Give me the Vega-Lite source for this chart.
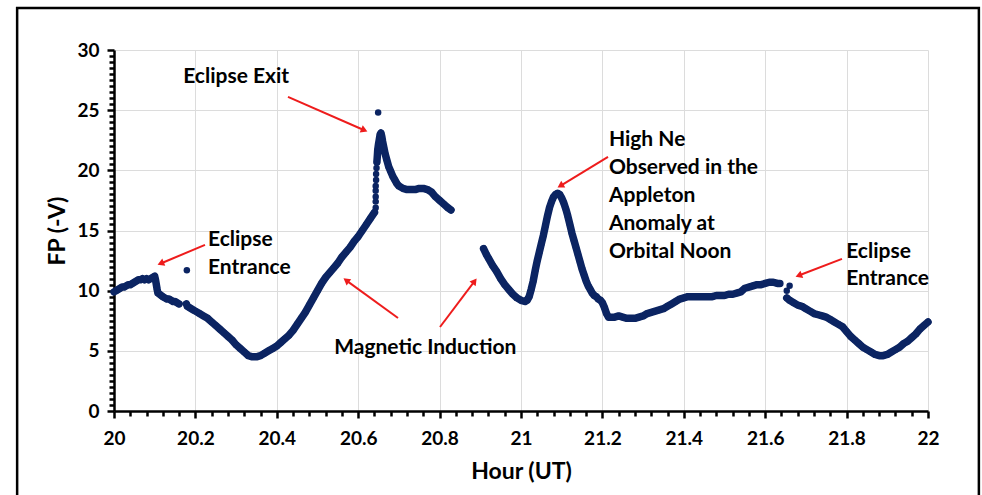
{
  "$schema": "https://vega.github.io/schema/vega-lite/v6.json",
  "width": 814,
  "height": 361,
  "autosize": "none",
  "padding": {"left": 114, "top": 50, "right": 54, "bottom": 84},
  "background": "white",
  "config": {"view": {"stroke": null}, "font": "Lato"},
  "datasets": {
    "fp": [
      {"h":20.000,"v":9.9,"s":"a"},{"h":20.005,"v":10.0,"s":"a"},{"h":20.010,"v":10.1,"s":"a"},{"h":20.015,"v":10.2,"s":"a"},{"h":20.020,"v":10.3,"s":"a"},{"h":20.025,"v":10.3,"s":"a"},{"h":20.030,"v":10.4,"s":"a"},{"h":20.035,"v":10.5,"s":"a"},{"h":20.040,"v":10.5,"s":"a"},{"h":20.045,"v":10.6,"s":"a"},{"h":20.050,"v":10.7,"s":"a"},{"h":20.055,"v":10.8,"s":"a"},{"h":20.060,"v":10.9,"s":"a"},{"h":20.065,"v":10.9,"s":"a"},{"h":20.070,"v":11.0,"s":"a"},{"h":20.075,"v":10.9,"s":"a"},{"h":20.080,"v":11.0,"s":"a"},{"h":20.085,"v":10.9,"s":"a"},{"h":20.090,"v":11.0,"s":"a"},{"h":20.095,"v":11.1,"s":"a"},{"h":20.100,"v":11.2,"s":"a"},{"h":20.102,"v":10.9,"s":"a"},{"h":20.104,"v":10.5,"s":"a"},{"h":20.106,"v":10.1,"s":"a"},{"h":20.108,"v":9.8,"s":"a"},{"h":20.112,"v":9.7,"s":"a"},{"h":20.116,"v":9.6,"s":"a"},{"h":20.120,"v":9.5,"s":"a"},{"h":20.125,"v":9.4,"s":"a"},{"h":20.130,"v":9.3,"s":"a"},{"h":20.135,"v":9.3,"s":"a"},{"h":20.140,"v":9.2,"s":"a"},{"h":20.145,"v":9.1,"s":"a"},{"h":20.150,"v":9.1,"s":"a"},{"h":20.155,"v":9.0,"s":"a"},{"h":20.160,"v":8.9,"s":"a"},
      {"h":20.178,"v":8.9,"s":"b"},{"h":20.180,"v":8.7,"s":"b"},{"h":20.185,"v":8.6,"s":"b"},{"h":20.190,"v":8.5,"s":"b"},{"h":20.195,"v":8.4,"s":"b"},{"h":20.200,"v":8.3,"s":"b"},{"h":20.210,"v":8.1,"s":"b"},{"h":20.220,"v":7.9,"s":"b"},{"h":20.230,"v":7.7,"s":"b"},{"h":20.240,"v":7.4,"s":"b"},{"h":20.250,"v":7.1,"s":"b"},{"h":20.260,"v":6.8,"s":"b"},{"h":20.270,"v":6.5,"s":"b"},{"h":20.280,"v":6.2,"s":"b"},{"h":20.290,"v":5.9,"s":"b"},{"h":20.300,"v":5.5,"s":"b"},{"h":20.310,"v":5.2,"s":"b"},{"h":20.320,"v":4.9,"s":"b"},{"h":20.330,"v":4.6,"s":"b"},{"h":20.340,"v":4.5,"s":"b"},{"h":20.350,"v":4.5,"s":"b"},{"h":20.360,"v":4.6,"s":"b"},{"h":20.370,"v":4.8,"s":"b"},{"h":20.380,"v":5.0,"s":"b"},{"h":20.390,"v":5.2,"s":"b"},{"h":20.400,"v":5.4,"s":"b"},{"h":20.410,"v":5.7,"s":"b"},{"h":20.420,"v":6.0,"s":"b"},{"h":20.430,"v":6.3,"s":"b"},{"h":20.440,"v":6.7,"s":"b"},{"h":20.450,"v":7.2,"s":"b"},{"h":20.460,"v":7.7,"s":"b"},{"h":20.470,"v":8.2,"s":"b"},{"h":20.480,"v":8.8,"s":"b"},{"h":20.490,"v":9.4,"s":"b"},{"h":20.500,"v":10.0,"s":"b"},{"h":20.510,"v":10.6,"s":"b"},{"h":20.520,"v":11.1,"s":"b"},{"h":20.530,"v":11.5,"s":"b"},{"h":20.540,"v":11.9,"s":"b"},{"h":20.550,"v":12.3,"s":"b"},{"h":20.560,"v":12.8,"s":"b"},{"h":20.570,"v":13.2,"s":"b"},{"h":20.580,"v":13.6,"s":"b"},{"h":20.590,"v":14.1,"s":"b"},{"h":20.600,"v":14.5,"s":"b"},{"h":20.610,"v":15.0,"s":"b"},{"h":20.620,"v":15.5,"s":"b"},{"h":20.630,"v":16.0,"s":"b"},{"h":20.640,"v":16.5,"s":"b"},
      {"h":20.643,"v":16.9,"s":"iso"},{"h":20.643,"v":17.4,"s":"iso"},{"h":20.643,"v":17.8,"s":"iso"},{"h":20.643,"v":18.3,"s":"iso"},{"h":20.643,"v":18.7,"s":"iso"},{"h":20.644,"v":19.2,"s":"iso"},{"h":20.644,"v":19.7,"s":"iso"},{"h":20.645,"v":20.2,"s":"iso"},{"h":20.179,"v":11.7,"s":"iso"},{"h":20.649,"v":24.8,"s":"iso"},{"h":21.653,"v":10.0,"s":"iso"},{"h":21.660,"v":10.4,"s":"iso"},
      {"h":20.646,"v":20.7,"s":"c"},{"h":20.647,"v":21.2,"s":"c"},{"h":20.648,"v":21.7,"s":"c"},{"h":20.650,"v":22.2,"s":"c"},{"h":20.652,"v":22.6,"s":"c"},{"h":20.654,"v":23.0,"s":"c"},{"h":20.656,"v":23.1,"s":"c"},{"h":20.658,"v":22.8,"s":"c"},{"h":20.660,"v":22.4,"s":"c"},{"h":20.663,"v":21.9,"s":"c"},{"h":20.666,"v":21.4,"s":"c"},{"h":20.670,"v":20.9,"s":"c"},{"h":20.675,"v":20.3,"s":"c"},{"h":20.680,"v":19.9,"s":"c"},{"h":20.685,"v":19.5,"s":"c"},{"h":20.690,"v":19.2,"s":"c"},{"h":20.695,"v":18.9,"s":"c"},{"h":20.700,"v":18.7,"s":"c"},{"h":20.710,"v":18.5,"s":"c"},{"h":20.720,"v":18.4,"s":"c"},{"h":20.730,"v":18.4,"s":"c"},{"h":20.740,"v":18.4,"s":"c"},{"h":20.750,"v":18.5,"s":"c"},{"h":20.760,"v":18.5,"s":"c"},{"h":20.770,"v":18.4,"s":"c"},{"h":20.780,"v":18.2,"s":"c"},{"h":20.790,"v":17.8,"s":"c"},{"h":20.800,"v":17.5,"s":"c"},{"h":20.810,"v":17.2,"s":"c"},{"h":20.820,"v":16.9,"s":"c"},{"h":20.828,"v":16.7,"s":"c"},
      {"h":20.908,"v":13.5,"s":"d"},{"h":20.915,"v":13.0,"s":"d"},{"h":20.920,"v":12.7,"s":"d"},{"h":20.930,"v":12.1,"s":"d"},{"h":20.940,"v":11.6,"s":"d"},{"h":20.950,"v":11.0,"s":"d"},{"h":20.960,"v":10.5,"s":"d"},{"h":20.970,"v":10.1,"s":"d"},{"h":20.980,"v":9.7,"s":"d"},{"h":20.990,"v":9.4,"s":"d"},{"h":21.000,"v":9.2,"s":"d"},{"h":21.010,"v":9.1,"s":"d"},{"h":21.015,"v":9.2,"s":"d"},{"h":21.020,"v":9.5,"s":"d"},{"h":21.025,"v":10.1,"s":"d"},{"h":21.030,"v":10.8,"s":"d"},{"h":21.035,"v":11.7,"s":"d"},{"h":21.040,"v":12.5,"s":"d"},{"h":21.045,"v":13.2,"s":"d"},{"h":21.050,"v":13.9,"s":"d"},{"h":21.055,"v":14.6,"s":"d"},{"h":21.060,"v":15.4,"s":"d"},{"h":21.065,"v":16.2,"s":"d"},{"h":21.070,"v":16.9,"s":"d"},{"h":21.075,"v":17.4,"s":"d"},{"h":21.080,"v":17.8,"s":"d"},{"h":21.085,"v":18.0,"s":"d"},{"h":21.090,"v":18.1,"s":"d"},{"h":21.095,"v":18.0,"s":"d"},{"h":21.100,"v":17.7,"s":"d"},{"h":21.105,"v":17.3,"s":"d"},{"h":21.110,"v":16.8,"s":"d"},{"h":21.115,"v":16.2,"s":"d"},{"h":21.120,"v":15.5,"s":"d"},{"h":21.125,"v":14.8,"s":"d"},{"h":21.130,"v":14.2,"s":"d"},{"h":21.135,"v":13.6,"s":"d"},{"h":21.140,"v":13.0,"s":"d"},{"h":21.145,"v":12.4,"s":"d"},{"h":21.150,"v":11.8,"s":"d"},{"h":21.155,"v":11.3,"s":"d"},{"h":21.160,"v":10.8,"s":"d"},{"h":21.165,"v":10.4,"s":"d"},{"h":21.170,"v":10.1,"s":"d"},{"h":21.175,"v":9.8,"s":"d"},{"h":21.180,"v":9.6,"s":"d"},{"h":21.185,"v":9.5,"s":"d"},{"h":21.190,"v":9.3,"s":"d"},{"h":21.195,"v":9.2,"s":"d"},{"h":21.200,"v":9.0,"s":"d"},{"h":21.205,"v":8.6,"s":"d"},{"h":21.210,"v":8.1,"s":"d"},{"h":21.215,"v":7.8,"s":"d"},{"h":21.220,"v":7.8,"s":"d"},{"h":21.230,"v":7.8,"s":"d"},{"h":21.240,"v":7.9,"s":"d"},{"h":21.250,"v":7.8,"s":"d"},{"h":21.260,"v":7.7,"s":"d"},{"h":21.270,"v":7.7,"s":"d"},{"h":21.280,"v":7.7,"s":"d"},{"h":21.290,"v":7.8,"s":"d"},{"h":21.300,"v":7.9,"s":"d"},{"h":21.310,"v":8.1,"s":"d"},{"h":21.320,"v":8.2,"s":"d"},{"h":21.330,"v":8.3,"s":"d"},{"h":21.340,"v":8.4,"s":"d"},{"h":21.350,"v":8.5,"s":"d"},{"h":21.360,"v":8.7,"s":"d"},{"h":21.370,"v":8.9,"s":"d"},{"h":21.380,"v":9.1,"s":"d"},{"h":21.390,"v":9.3,"s":"d"},{"h":21.400,"v":9.4,"s":"d"},{"h":21.410,"v":9.5,"s":"d"},{"h":21.420,"v":9.5,"s":"d"},{"h":21.430,"v":9.5,"s":"d"},{"h":21.440,"v":9.5,"s":"d"},{"h":21.450,"v":9.5,"s":"d"},{"h":21.460,"v":9.5,"s":"d"},{"h":21.470,"v":9.5,"s":"d"},{"h":21.480,"v":9.6,"s":"d"},{"h":21.490,"v":9.6,"s":"d"},{"h":21.500,"v":9.6,"s":"d"},{"h":21.510,"v":9.7,"s":"d"},{"h":21.520,"v":9.7,"s":"d"},{"h":21.530,"v":9.8,"s":"d"},{"h":21.540,"v":9.9,"s":"d"},{"h":21.550,"v":10.2,"s":"d"},{"h":21.560,"v":10.3,"s":"d"},{"h":21.570,"v":10.4,"s":"d"},{"h":21.580,"v":10.5,"s":"d"},{"h":21.590,"v":10.5,"s":"d"},{"h":21.600,"v":10.6,"s":"d"},{"h":21.610,"v":10.7,"s":"d"},{"h":21.620,"v":10.7,"s":"d"},{"h":21.630,"v":10.6,"s":"d"},{"h":21.636,"v":10.6,"s":"d"},
      {"h":21.653,"v":9.4,"s":"e"},{"h":21.660,"v":9.2,"s":"e"},{"h":21.670,"v":9.0,"s":"e"},{"h":21.680,"v":8.8,"s":"e"},{"h":21.690,"v":8.7,"s":"e"},{"h":21.700,"v":8.5,"s":"e"},{"h":21.710,"v":8.3,"s":"e"},{"h":21.720,"v":8.1,"s":"e"},{"h":21.730,"v":8.0,"s":"e"},{"h":21.740,"v":7.9,"s":"e"},{"h":21.750,"v":7.8,"s":"e"},{"h":21.760,"v":7.6,"s":"e"},{"h":21.770,"v":7.4,"s":"e"},{"h":21.780,"v":7.2,"s":"e"},{"h":21.790,"v":7.0,"s":"e"},{"h":21.800,"v":6.6,"s":"e"},{"h":21.810,"v":6.2,"s":"e"},{"h":21.820,"v":5.9,"s":"e"},{"h":21.830,"v":5.6,"s":"e"},{"h":21.840,"v":5.3,"s":"e"},{"h":21.850,"v":5.1,"s":"e"},{"h":21.860,"v":4.9,"s":"e"},{"h":21.870,"v":4.7,"s":"e"},{"h":21.880,"v":4.6,"s":"e"},{"h":21.890,"v":4.6,"s":"e"},{"h":21.900,"v":4.7,"s":"e"},{"h":21.910,"v":4.9,"s":"e"},{"h":21.920,"v":5.1,"s":"e"},{"h":21.930,"v":5.3,"s":"e"},{"h":21.940,"v":5.6,"s":"e"},{"h":21.950,"v":5.8,"s":"e"},{"h":21.960,"v":6.1,"s":"e"},{"h":21.970,"v":6.4,"s":"e"},{"h":21.980,"v":6.8,"s":"e"},{"h":21.990,"v":7.1,"s":"e"},{"h":22.000,"v":7.4,"s":"e"}
    ],
    "arrows": [
      {"h":20.4275,"v":26.10,"h2":20.615,"v2":23.33},
      {"h":20.2236,"v":13.80,"h2":20.1147,"v2":12.26},
      {"h":20.6978,"v":7.73,"h2":20.5705,"v2":10.86},
      {"h":20.801,"v":6.98,"h2":20.886,"v2":10.79},
      {"h":21.2138,"v":21.11,"h2":21.0968,"v2":18.71},
      {"h":21.7887,"v":12.64,"h2":21.6823,"v2":11.26}
    ],
    "labels": [
      {"h":20.170,"v":27.76,"t":"Eclipse Exit"},
      {"h":20.231,"v":14.21,"t":"Eclipse"},
      {"h":20.231,"v":11.89,"t":"Entrance"},
      {"h":20.541,"v":5.24,"t":"Magnetic Induction"},
      {"h":21.216,"v":22.53,"t":"High Ne"},
      {"h":21.216,"v":20.20,"t":"Observed in the"},
      {"h":21.216,"v":17.87,"t":"Appleton"},
      {"h":21.216,"v":15.54,"t":"Anomaly at"},
      {"h":21.216,"v":13.22,"t":"Orbital Noon"},
      {"h":21.799,"v":13.22,"t":"Eclipse"},
      {"h":21.799,"v":10.97,"t":"Entrance"}
    ],
    "frame": [{"h":19.762,"h2":22.125,"v":33.5,"v2":-7.3}]
  },
  "encoding": {
    "x": {"field": "h", "type": "quantitative",
      "scale": {"domain": [20, 22], "nice": false, "zero": false},
      "axis": {
        "title": "Hour (UT)",
        "values": [20,20.04,20.08,20.12,20.16,20.2,20.24,20.28,20.32,20.36,20.4,20.44,20.48,20.52,20.56,20.6,20.64,20.68,20.72,20.76,20.8,20.84,20.88,20.92,20.96,21,21.04,21.08,21.12,21.16,21.2,21.24,21.28,21.32,21.36,21.4,21.44,21.48,21.52,21.56,21.6,21.64,21.68,21.72,21.76,21.8,21.84,21.88,21.92,21.96,22],
        "labelExpr": "abs(datum.value*5-round(datum.value*5))<0.01 ? format(datum.value,'~g') : ''",
        "labelOverlap": false, "labelFlush": false,
        "tickSize": {"condition": {"test": "abs(datum.value*5-round(datum.value*5))<0.01", "value": 7}, "value": 5},
        "grid": true,
        "gridOpacity": {"condition": {"test": "abs(datum.value*5-round(datum.value*5))<0.01", "value": 1}, "value": 0},
        "gridColor": "#dcdcdc", "gridWidth": 1,
        "domainColor": "black", "domainWidth": 2.5,
        "tickColor": "black", "tickWidth": 2.5,
        "labelFont": "Lato", "labelFontWeight": "bold", "labelFontSize": 19, "labelColor": "black", "labelPadding": 11,
        "titleFont": "Lato", "titleFontSize": 23, "titleFontWeight": "bold", "titleColor": "black", "titlePadding": 12
      }
    },
    "y": {"field": "v", "type": "quantitative",
      "scale": {"domain": [0, 30], "nice": false, "zero": false},
      "axis": {
        "title": "FP (-V)",
        "values": [0,0.5,1,1.5,2,2.5,3,3.5,4,4.5,5,5.5,6,6.5,7,7.5,8,8.5,9,9.5,10,10.5,11,11.5,12,12.5,13,13.5,14,14.5,15,15.5,16,16.5,17,17.5,18,18.5,19,19.5,20,20.5,21,21.5,22,22.5,23,23.5,24,24.5,25,25.5,26,26.5,27,27.5,28,28.5,29,29.5,30],
        "labelExpr": "abs(datum.value/5-round(datum.value/5))<0.01 ? format(datum.value,'~g') : ''",
        "labelOverlap": false, "labelFlush": false,
        "tickSize": {"condition": {"test": "abs(datum.value/5-round(datum.value/5))<0.01", "value": 7}, "value": 5},
        "grid": true,
        "gridOpacity": {"condition": {"test": "abs(datum.value/5-round(datum.value/5))<0.01", "value": 1}, "value": 0},
        "gridColor": "#dcdcdc", "gridWidth": 1,
        "domainColor": "black", "domainWidth": 2.5,
        "tickColor": "black", "tickWidth": 2.5,
        "labelFont": "Lato", "labelFontWeight": "bold", "labelFontSize": 19, "labelColor": "black", "labelPadding": 8,
        "titleFont": "Lato", "titleFontSize": 23, "titleFontWeight": "bold", "titleColor": "black", "titlePadding": 7
      }
    }
  },
  "layer": [
    {
      "data": {"name": "fp"},
      "mark": {"type": "circle", "size": 42, "opacity": 1, "color": "#0b2462"}
    },
    {
      "data": {"name": "fp"},
      "transform": [{"filter": "datum.s != 'iso'"}],
      "mark": {"type": "line", "color": "#0b2462", "strokeWidth": 7.5, "strokeCap": "round", "strokeJoin": "round"},
      "encoding": {"detail": {"field": "s"}}
    },
    {
      "data": {"name": "frame"},
      "mark": {"type": "rect", "fillOpacity": 0, "stroke": "black", "strokeWidth": 2.5, "clip": false},
      "encoding": {"x2": {"field": "h2"}, "y2": {"field": "v2"}}
    },
    {
      "data": {"name": "arrows"},
      "mark": {"type": "rule", "color": "#ee1c1c", "strokeWidth": 2},
      "encoding": {"x2": {"field": "h2"}, "y2": {"field": "v2"}}
    },
    {"data": {"values": [{"h": 20.615, "v": 23.33}]}, "mark": {"type": "point", "shape": "triangle-up", "filled": true, "opacity": 1, "color": "#ee1c1c", "size": 60, "angle": 113.6}},
    {"data": {"values": [{"h": 20.1147, "v": 12.26}]}, "mark": {"type": "point", "shape": "triangle-up", "filled": true, "opacity": 1, "color": "#ee1c1c", "size": 60, "angle": 247.4}},
    {"data": {"values": [{"h": 20.5705, "v": 10.86}]}, "mark": {"type": "point", "shape": "triangle-up", "filled": true, "opacity": 1, "color": "#ee1c1c", "size": 60, "angle": 306}},
    {"data": {"values": [{"h": 20.886, "v": 10.79}]}, "mark": {"type": "point", "shape": "triangle-up", "filled": true, "opacity": 1, "color": "#ee1c1c", "size": 60, "angle": 37}},
    {"data": {"values": [{"h": 21.0968, "v": 18.71}]}, "mark": {"type": "point", "shape": "triangle-up", "filled": true, "opacity": 1, "color": "#ee1c1c", "size": 60, "angle": 238.7}},
    {"data": {"values": [{"h": 21.6823, "v": 11.26}]}, "mark": {"type": "point", "shape": "triangle-up", "filled": true, "opacity": 1, "color": "#ee1c1c", "size": 60, "angle": 249}},
    {
      "data": {"name": "labels"},
      "mark": {"type": "text", "align": "left", "baseline": "middle", "font": "Lato", "fontWeight": "bold", "fontSize": 21, "color": "black"},
      "encoding": {"text": {"field": "t"}}
    }
  ]
}
